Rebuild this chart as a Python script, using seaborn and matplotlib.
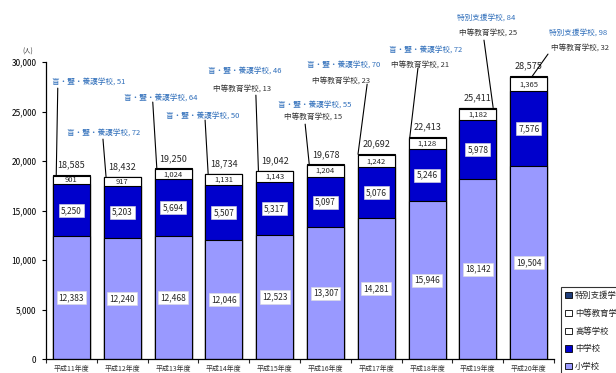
import matplotlib
matplotlib.use("Agg")
import matplotlib.pyplot as plt
from matplotlib.patches import Patch
from matplotlib.ticker import FuncFormatter, FixedLocator
import numpy as np
import pandas as pd
import seaborn as sns

# 日本語指導が必要な外国人児童生徒数（学校種別）
years = ["平成11年度", "平成12年度", "平成13年度", "平成14年度", "平成15年度",
         "平成16年度", "平成17年度", "平成18年度", "平成19年度", "平成20年度"]
elementary = [12383, 12240, 12468, 12046, 12523, 13307, 14281, 15946, 18142, 19504]
junior_high = [5250, 5203, 5694, 5507, 5317, 5097, 5076, 5246, 5978, 7576]
high_school = [901, 917, 1024, 1131, 1143, 1204, 1242, 1128, 1182, 1365]
secondary = [0, 0, 0, 0, 13, 15, 23, 21, 25, 32]
special = [51, 72, 64, 50, 46, 55, 70, 72, 84, 98]
special_names = ["盲・聾・養護学校"] * 8 + ["特別支援学校"] * 2

layer_names = ["小学校", "中学校", "高等学校", "中等教育学校", "特別支援学校"]
layer_values = [elementary, junior_high, high_school, secondary, special]
layer_colors = ["#9999ff", "#0000cc", "#ffffff", "#ffffff", "#1f3d7a"]

sns.set_style("white")
plt.rcParams["font.family"] = ["Noto Sans CJK JP", "DejaVu Sans"]

df = pd.DataFrame({"年度": years})
for name, vals in zip(layer_names, layer_values):
    df[name] = vals
cum = df[layer_names].cumsum(axis=1)
totals = cum[layer_names[-1]].tolist()

fig = plt.figure(figsize=(6.16, 3.73), dpi=100)
ax = fig.add_axes([0.0748, 0.0375, 0.8247, 0.796])

BAR_W = 0.73
# stacked bars drawn as overlapping cumulative heights, topmost layer first
for name, color in reversed(list(zip(layer_names, layer_colors))):
    layer = pd.DataFrame({"年度": years, "cum": cum[name]})
    sns.barplot(data=layer, x="年度", y="cum", order=years, color=color,
                saturation=1, width=BAR_W, edgecolor="black", linewidth=0.8,
                errorbar=None, ax=ax, zorder=2)

ax.set_xlim(-0.5, 9.5)
ax.set_ylim(0, 30000)
ax.set_xlabel("")
ax.set_ylabel("")
for s in ["top", "right"]:
    ax.spines[s].set_visible(False)
for s in ["left", "bottom"]:
    ax.spines[s].set_color("black")
    ax.spines[s].set_linewidth(0.9)

ax.set_yticks(np.arange(0, 30001, 5000))
ax.yaxis.set_major_formatter(FuncFormatter(lambda v, p: f"{int(v):,}"))
ax.tick_params(axis="y", direction="out", length=3, width=0.8, labelsize=6,
               colors="black", left=True, pad=4)
ax.set_xticks(range(len(years)))
ax.set_xticklabels(years, fontsize=5, color="#333333")
ax.tick_params(axis="x", length=0, pad=4)
ax.xaxis.set_minor_locator(FixedLocator(np.arange(-0.5, 10, 1)))
ax.tick_params(axis="x", which="minor", direction="out", length=3, width=0.8,
               bottom=True)
ax.text(-0.036, 1.035, "(人)", transform=ax.transAxes, fontsize=4.5,
        ha="center", va="center", color="#333333")

# value labels
box = dict(boxstyle="square,pad=0.25", facecolor="white", edgecolor="#dddddd",
           linewidth=0.4)
for i in range(len(years)):
    e, j, h = elementary[i], junior_high[i], high_school[i]
    ax.text(i, e / 2, f"{e:,}", ha="center", va="center", fontsize=6,
            bbox=box, zorder=5)
    ax.text(i, e + j / 2, f"{j:,}", ha="center", va="center", fontsize=6,
            bbox=box, zorder=5)
    ax.text(i, e + j + h / 2, f"{h:,}", ha="center", va="center", fontsize=5.5,
            zorder=5)
    ax.text(i, totals[i] + 550, f"{totals[i]:,}", ha="center", va="bottom",
            fontsize=6.5, zorder=5)

# callouts for the small top segments: text anchors, leader start and leader end offset
call_text1 = [(-0.38, 27980), (-1.08, 22830), (-0.96, 26370), (-1.14, 24550),
              (-1.31, 29090), (-0.94, 25650), (-1.37, 29790), (-0.75, 31210),
              (-0.41, 34540), (0.40, 32930)]
call_text2 = [None, None, None, None, (-1.21, 27270), (-0.82, 24440),
              (-1.27, 28170), (-0.71, 29790), (-0.37, 32930), (0.44, 31410)]
line_start = [(-0.27, 27370), (-0.38, 22220), (-0.40, 25960), (-0.37, 24140),
              (-0.37, 26660), (-0.40, 23730), (-0.18, 27770), (-0.18, 29390),
              (0.12, 32220), (0.38, 30810)]
line_end_dx = [-0.30, -0.32, -0.32, -0.31, -0.32, -0.32, -0.36, -0.34, 0.30, 0.07]

blue_txt = "#2f6eba"
for i in range(len(years)):
    tx, ty = call_text1[i]
    ax.text(i + tx, ty, f"{special_names[i]}, {special[i]}", fontsize=5.5,
            color=blue_txt, ha="left", va="center", clip_on=False, zorder=6)
    if call_text2[i] is not None:
        tx2, ty2 = call_text2[i]
        ax.text(i + tx2, ty2, f"中等教育学校, {secondary[i]}", fontsize=5.5,
                color="#333333", ha="left", va="center", clip_on=False, zorder=6)
    sx, sy = line_start[i]
    ax.annotate("", xy=(i + line_end_dx[i], totals[i]), xytext=(i + sx, sy),
                arrowprops=dict(arrowstyle="-", color="black", lw=0.8,
                                shrinkA=0, shrinkB=0),
                annotation_clip=False, zorder=6)

handles = [Patch(facecolor=c, edgecolor="black", linewidth=0.6, label=n)
           for n, c in zip(layer_names, layer_colors)][::-1]
leg = fig.legend(handles=handles, loc="upper left",
                 bbox_to_anchor=(561 / 616, 1 - 287 / 373),
                 bbox_transform=fig.transFigure, fontsize=6, frameon=True,
                 fancybox=False, handlelength=0.8, handleheight=0.8,
                 handletextpad=0.4, labelspacing=1.05, borderpad=0.5,
                 borderaxespad=0)
leg.get_frame().set_edgecolor("black")
leg.get_frame().set_linewidth(0.8)

fig.savefig("out.png", dpi=100)
